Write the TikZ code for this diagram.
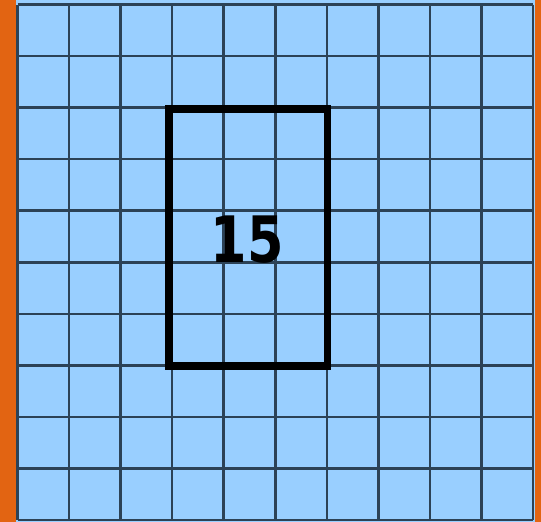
\documentclass[tikz,border=0pt]{standalone}
\usepackage{fontspec}
\newfontfamily\numfont{DejaVu Sans}
\definecolor{sideorange}{RGB}{226,100,18}
\definecolor{cellblue}{RGB}{153,207,255}
\definecolor{gridline}{RGB}{44,66,86}
\begin{document}
\begin{tikzpicture}[x=1pt,y=-1pt,
  gridstyle/.style={draw=gridline,line width=2.6pt},
  framestyle/.style={draw=black,line width=7.5pt},
  labelstyle/.style={font=\numfont\bfseries\fontsize{64}{64}\selectfont,text=black,inner sep=0pt}]
\useasboundingbox (0,0) rectangle (541,522);
\fill[sideorange] (0,0) rectangle (541,522);
\fill[cellblue] (16,0) rectangle (535,522);
\foreach \i in {0,...,10}{
  \draw[gridstyle] ({17.5+\i*51.55},4.5) -- ({17.5+\i*51.55},520);
  \draw[gridstyle] (17.5,{4.5+\i*51.55}) -- (533,{4.5+\i*51.55});
}
\draw[framestyle] (169,109) rectangle (327.5,366);
\node[labelstyle] (num) at (247,240) {\scalebox{0.82}[1]{15}};
\end{tikzpicture}
\end{document}
